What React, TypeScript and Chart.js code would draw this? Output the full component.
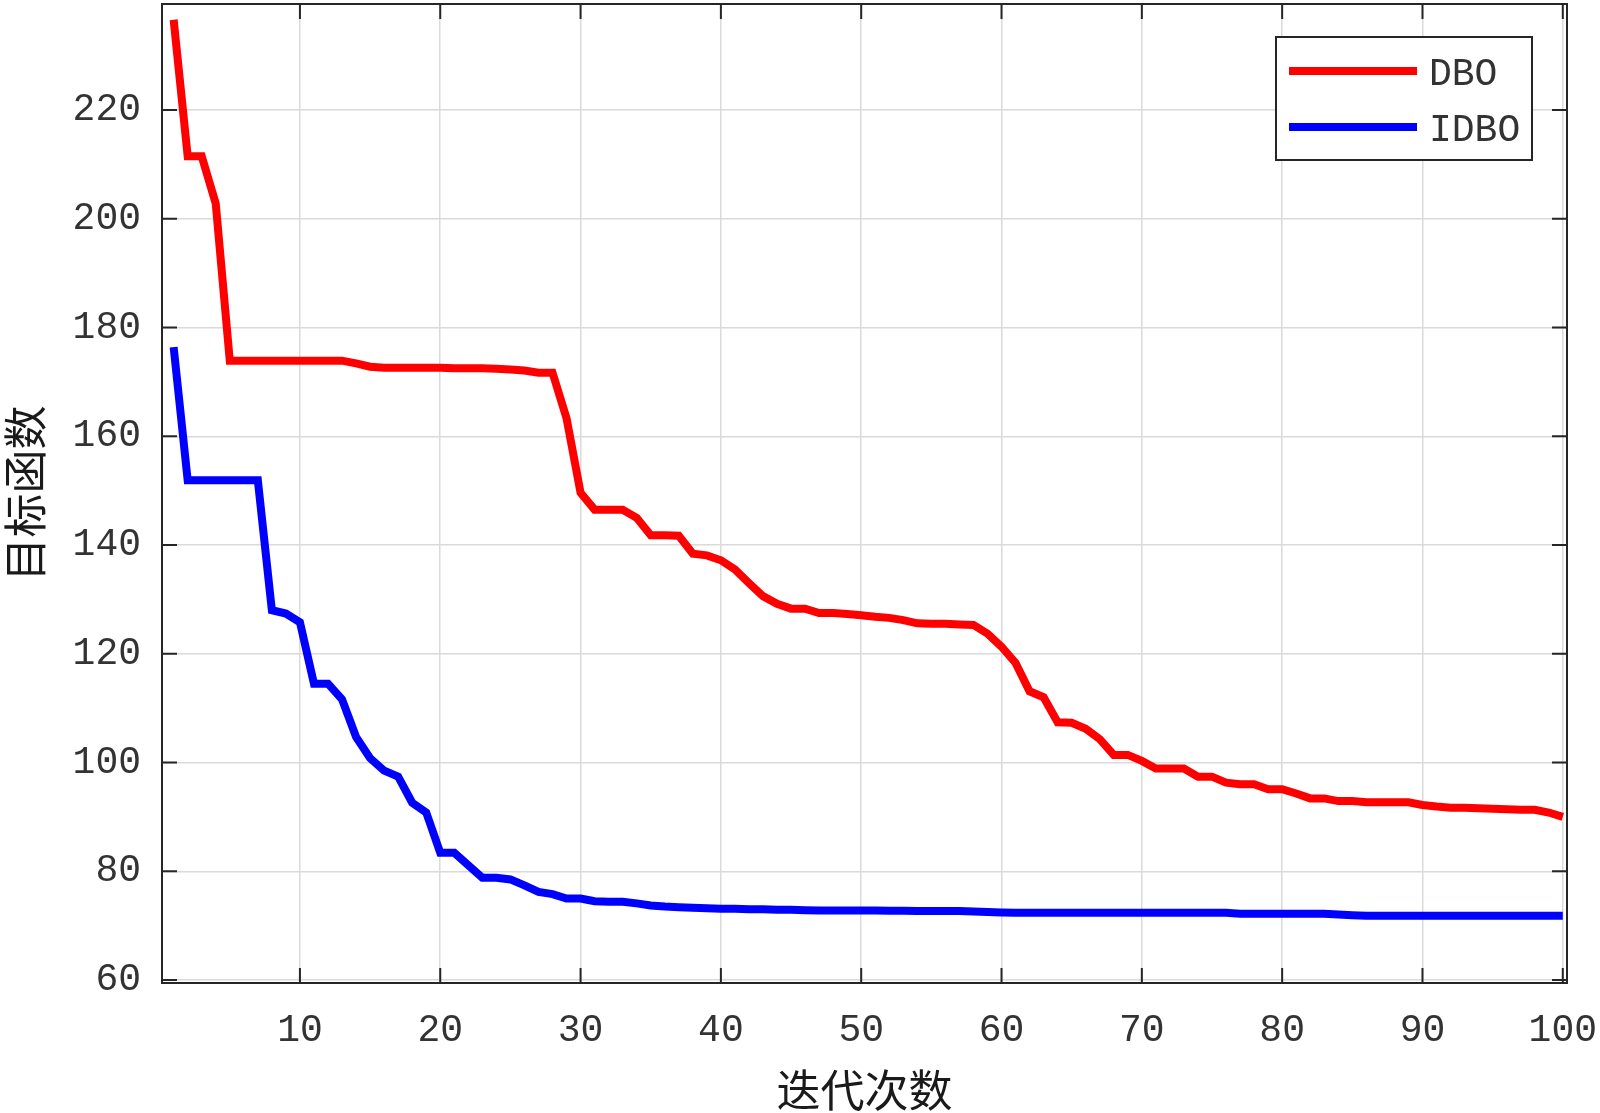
import React, { useEffect, useRef } from "react";
import { Chart, registerables } from "chart.js";

Chart.register(...registerables);

const iterations: number[] = Array.from({ length: 100 }, (_, i) => i + 1);

const dboValues: number[] = [
  236.6, 211.5, 211.5, 202.8, 173.9, 173.9, 173.9, 173.9, 173.9, 173.9,
  173.9, 173.9, 173.9, 173.4, 172.8, 172.6, 172.6, 172.6, 172.6, 172.6,
  172.5, 172.5, 172.5, 172.4, 172.3, 172.1, 171.7, 171.7, 163.3, 149.6,
  146.5, 146.5, 146.5, 145.0, 141.8, 141.8, 141.7, 138.4, 138.1, 137.2,
  135.5, 133.0, 130.6, 129.2, 128.3, 128.3, 127.5, 127.5, 127.3, 127.1,
  126.8, 126.6, 126.2, 125.6, 125.5, 125.5, 125.4, 125.3, 123.7, 121.3,
  118.3, 113.1, 112.0, 107.4, 107.3, 106.2, 104.3, 101.4, 101.4, 100.3,
  98.9, 98.9, 98.9, 97.4, 97.4, 96.3, 96.0, 96.0, 95.1, 95.1,
  94.3, 93.4, 93.4, 92.9, 92.9, 92.7, 92.7, 92.7, 92.7, 92.2,
  91.9, 91.7, 91.7, 91.6, 91.5, 91.4, 91.3, 91.3, 90.8, 90.0,
];

const idboValues: number[] = [
  176.4, 151.9, 151.9, 151.9, 151.9, 151.9, 151.9, 128.0, 127.4, 125.8,
  114.5, 114.5, 111.6, 104.7, 100.8, 98.5, 97.4, 92.6, 90.8, 83.4,
  83.4, 81.1, 78.8, 78.8, 78.5, 77.4, 76.2, 75.8, 75.0, 75.0,
  74.5, 74.4, 74.4, 74.1, 73.7, 73.5, 73.4, 73.3, 73.2, 73.1,
  73.1, 73.0, 73.0, 72.9, 72.9, 72.85, 72.8, 72.8, 72.8, 72.8,
  72.8, 72.75, 72.75, 72.7, 72.7, 72.7, 72.7, 72.6, 72.5, 72.4,
  72.35, 72.35, 72.35, 72.35, 72.35, 72.35, 72.35, 72.35, 72.35, 72.35,
  72.35, 72.35, 72.35, 72.35, 72.35, 72.35, 72.2, 72.2, 72.2, 72.2,
  72.2, 72.2, 72.2, 72.05, 71.9, 71.8, 71.8, 71.8, 71.8, 71.8,
  71.8, 71.8, 71.8, 71.8, 71.8, 71.8, 71.8, 71.8, 71.8, 71.8,
];

const seriesNames: string[] = ["DBO", "IDBO"];
const seriesColors: string[] = ["rgb(255,0,0)", "rgb(0,0,255)"];
const xTickValues: number[] = [10, 20, 30, 40, 50, 60, 70, 80, 90, 100];
const yTickValues: number[] = [60, 80, 100, 120, 140, 160, 180, 200, 220];
const xTitle = "迭代次数";
const yTitle = "目标函数";

const AXIS_COLOR = "#262626";
const LABEL_COLOR = "#333333";
const GRID_COLOR = "#dadada";
const MONO = "'Liberation Mono', 'DejaVu Sans Mono', monospace";
const CJK = "'Noto Sans CJK SC', sans-serif";
const LINE_W = 8;

const framePlugin = {
  id: "matlabFrame",
  afterDraw(chart: any) {
    const { ctx, chartArea } = chart;
    const { left, right, top, bottom } = chartArea;
    const xs = chart.scales.x;
    const ys = chart.scales.y;
    const tickLen = 15;
    ctx.save();
    ctx.strokeStyle = AXIS_COLOR;
    ctx.lineWidth = 2;
    ctx.strokeRect(left, top, right - left, bottom - top);
    ctx.beginPath();
    xTickValues.forEach((v) => {
      const px = xs.getPixelForValue(v);
      ctx.moveTo(px, bottom);
      ctx.lineTo(px, bottom - tickLen);
      ctx.moveTo(px, top);
      ctx.lineTo(px, top + tickLen);
    });
    yTickValues.forEach((v) => {
      const py = ys.getPixelForValue(v);
      ctx.moveTo(left, py);
      ctx.lineTo(left + tickLen, py);
      ctx.moveTo(right, py);
      ctx.lineTo(right - tickLen, py);
    });
    ctx.stroke();

    // legend box (top-right inside axes)
    const boxW = 256;
    const boxH = 123;
    const bx = right - 291;
    const by = top + 33;
    ctx.fillStyle = "#ffffff";
    ctx.fillRect(bx, by, boxW, boxH);
    ctx.lineWidth = 2;
    ctx.strokeStyle = AXIS_COLOR;
    ctx.strokeRect(bx, by, boxW, boxH);
    chart.data.datasets.forEach((ds: any, i: number) => {
      const ly = by + 34 + i * 56;
      ctx.beginPath();
      ctx.strokeStyle = ds.borderColor;
      ctx.lineWidth = LINE_W;
      ctx.moveTo(bx + 13, ly);
      ctx.lineTo(bx + 141, ly);
      ctx.stroke();
      ctx.fillStyle = LABEL_COLOR;
      ctx.font = `38px ${MONO}`;
      ctx.textAlign = "left";
      ctx.textBaseline = "middle";
      ctx.fillText(ds.label, bx + 153, ly + 4);
    });
    ctx.restore();
  },
};

export default function App() {
  const canvasRef = useRef<HTMLCanvasElement | null>(null);

  useEffect(() => {
    if (!canvasRef.current) return;
    const chart = new Chart(canvasRef.current, {
      type: "line",
      data: {
        labels: iterations,
        datasets: [
          {
            label: seriesNames[0],
            data: iterations.map((x, i) => ({ x, y: dboValues[i] })),
            borderColor: seriesColors[0],
            backgroundColor: seriesColors[0],
            borderWidth: LINE_W,
            pointRadius: 0,
            tension: 0,
            fill: false,
          },
          {
            label: seriesNames[1],
            data: iterations.map((x, i) => ({ x, y: idboValues[i] })),
            borderColor: seriesColors[1],
            backgroundColor: seriesColors[1],
            borderWidth: LINE_W,
            pointRadius: 0,
            tension: 0,
            fill: false,
          },
        ],
      },
      options: {
        animation: false,
        responsive: false,
        maintainAspectRatio: false,
        devicePixelRatio: 1,
        layout: { padding: { top: 4, right: 33, left: 0, bottom: 0 } },
        plugins: {
          legend: { display: false },
          tooltip: { enabled: false },
        },
        scales: {
          x: {
            type: "linear",
            min: 0.17,
            max: 100.3,
            afterBuildTicks: (scale: any) => {
              scale.ticks = xTickValues.map((v) => ({ value: v }));
            },
            afterFit: (scale: any) => {
              scale.height = 130;
              scale.paddingLeft = 0;
              scale.paddingRight = 0;
            },
            grid: {
              color: GRID_COLOR,
              lineWidth: 1.5,
              drawTicks: false,
            },
            border: { display: false },
            ticks: {
              padding: 25,
              maxRotation: 0,
              autoSkip: false,
              color: LABEL_COLOR,
              font: { family: MONO, size: 38 },
            },
            title: {
              display: true,
              text: xTitle,
              color: "#1a1a1a",
              font: { family: CJK, size: 44, lineHeight: 1 },
              padding: { top: 0, bottom: 1 },
            },
          },
          y: {
            type: "linear",
            min: 59.45,
            max: 239.5,
            afterBuildTicks: (scale: any) => {
              scale.ticks = yTickValues.map((v) => ({ value: v }));
            },
            afterFit: (scale: any) => {
              scale.width = 162;
              scale.paddingTop = 0;
              scale.paddingBottom = 0;
            },
            grid: {
              color: GRID_COLOR,
              lineWidth: 1.5,
              drawTicks: false,
            },
            border: { display: false },
            ticks: {
              padding: 21,
              autoSkip: false,
              color: LABEL_COLOR,
              font: { family: MONO, size: 38 },
            },
            title: {
              display: true,
              text: yTitle,
              color: "#1a1a1a",
              font: { family: CJK, size: 44, lineHeight: 1 },
              padding: { top: 3, bottom: 0 },
            },
          },
        },
      },
      plugins: [framePlugin],
    });
    return () => chart.destroy();
  }, []);

  return (
    <div
      style={{
        position: "fixed",
        left: 0,
        top: 0,
        width: 1600,
        height: 1113,
        background: "#ffffff",
      }}
    >
      <canvas
        ref={canvasRef}
        width={1600}
        height={1113}
        style={{ display: "block", width: 1600, height: 1113 }}
      />
    </div>
  );
}
